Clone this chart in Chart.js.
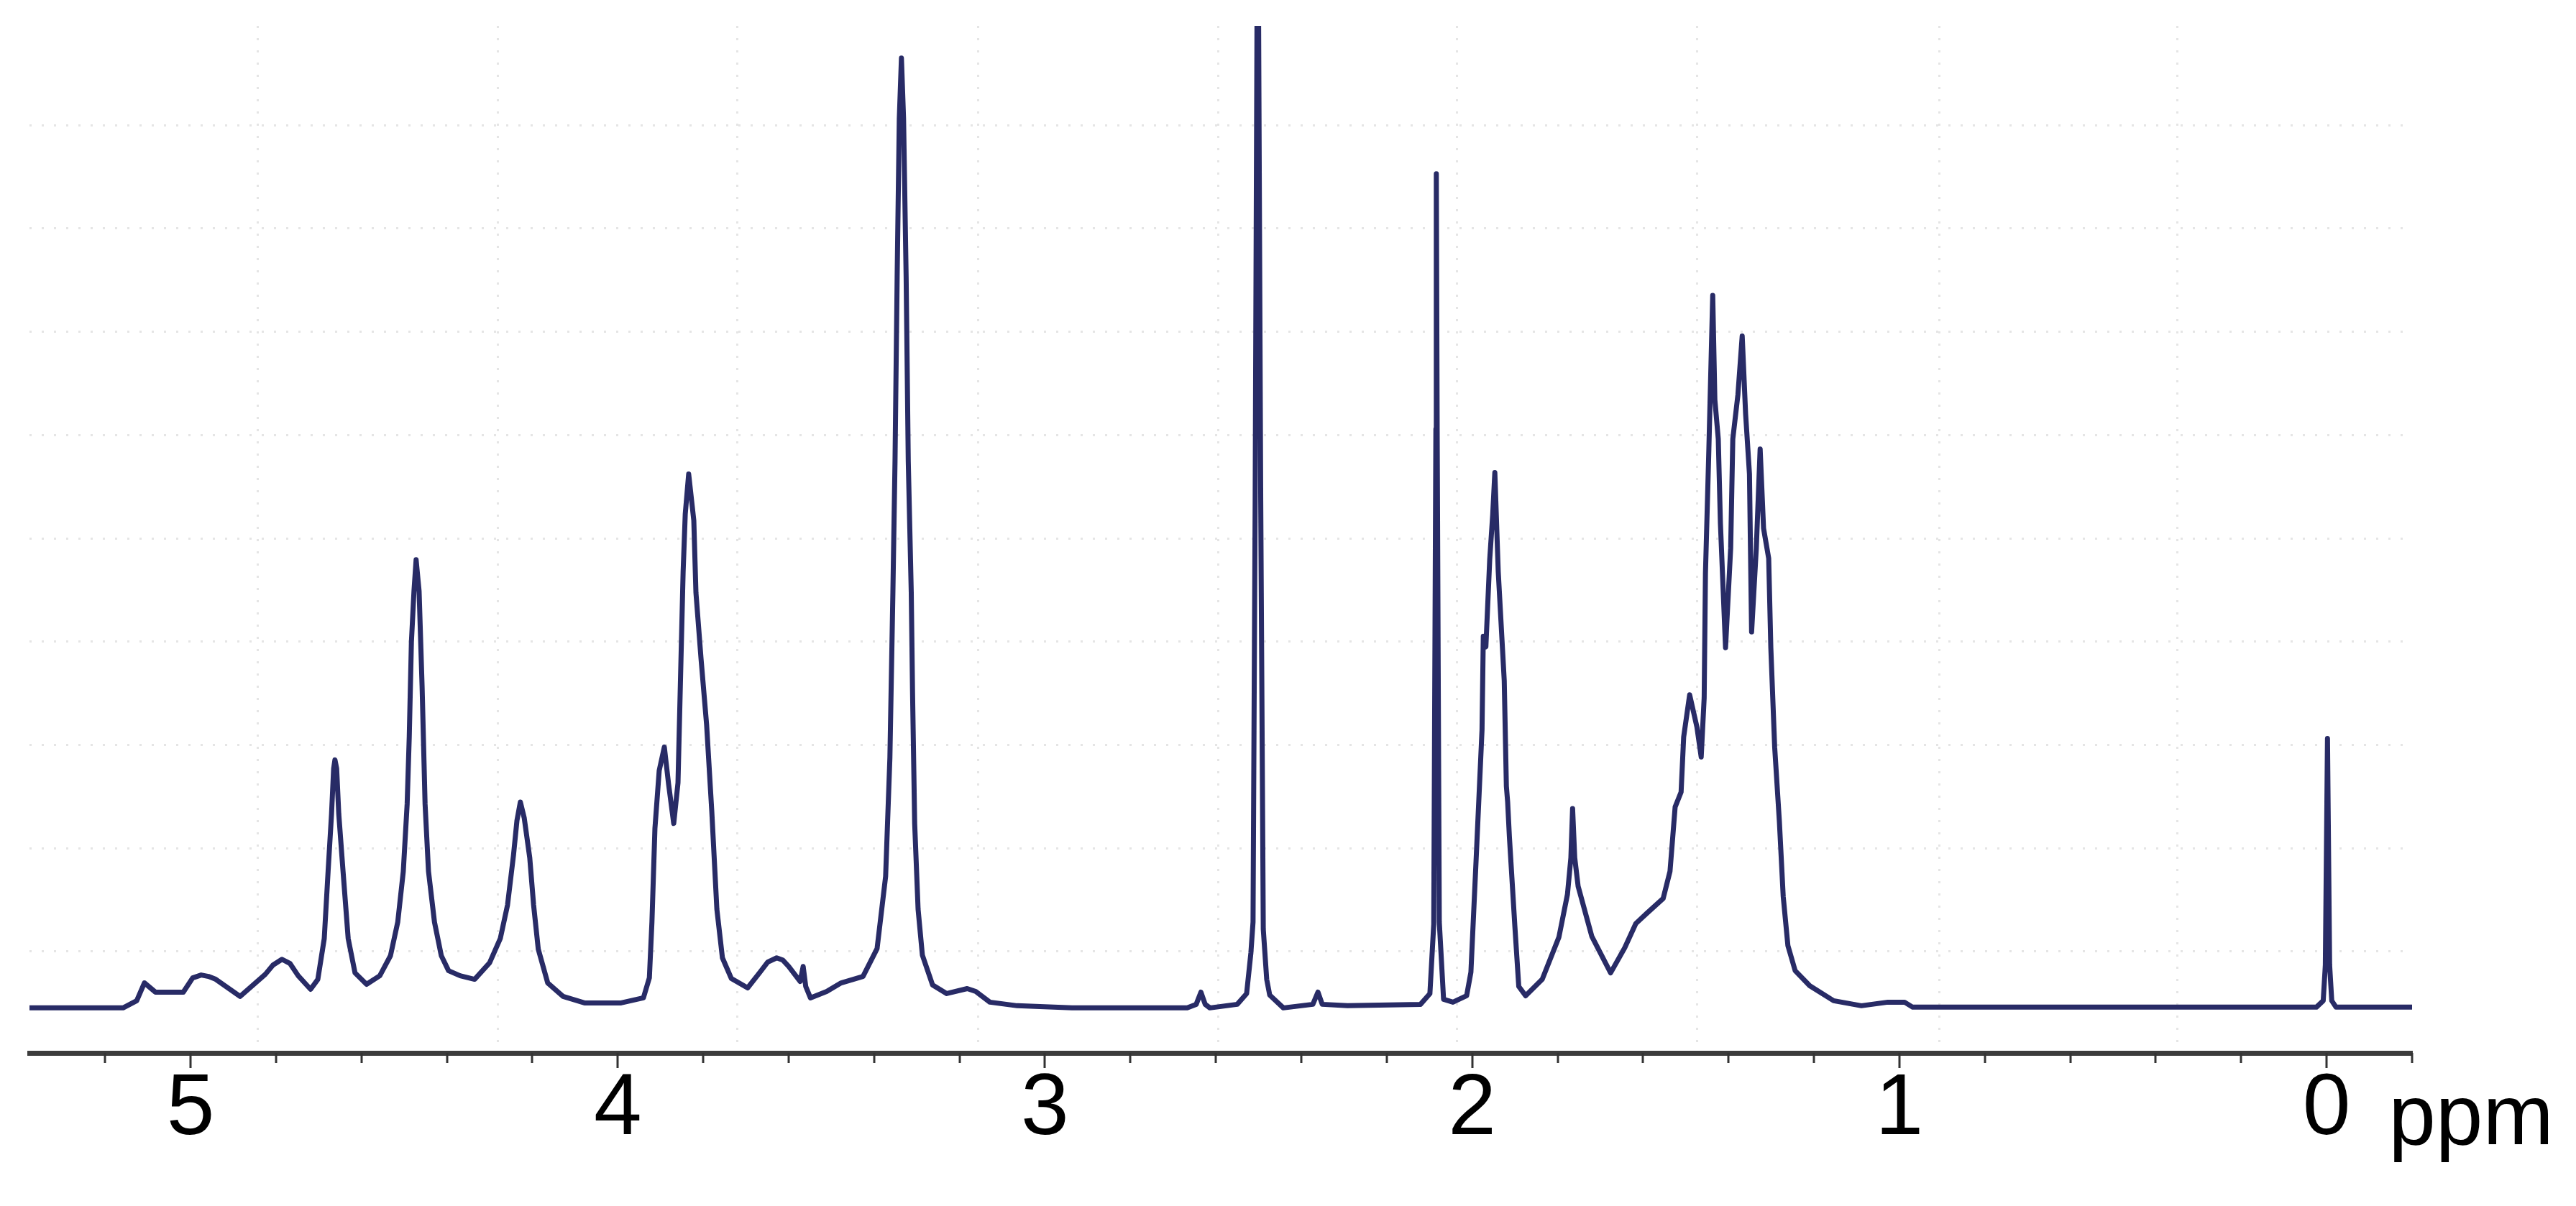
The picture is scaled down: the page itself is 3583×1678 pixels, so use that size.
<!DOCTYPE html>
<html>
<head>
<meta charset="utf-8">
<style>
  html, body { margin: 0; padding: 0; background: #ffffff; }
  #wrap { width: 3583px; height: 1678px; }
  canvas { display: block; }
</style>
<script src="https://cdn.jsdelivr.net/npm/chart.js@4.4.1/dist/chart.umd.min.js"></script>
</head>
<body>
<div id="wrap"><canvas id="c" width="3583" height="1678"></canvas></div>
<script>
// Chemical shift (ppm) of each traced point, left to right
const ppm = [
  5.377, 5.158, 5.126, 5.108, 5.082, 5.017, 4.995, 4.975, 4.958, 4.941,
  4.884, 4.825, 4.807, 4.786, 4.767, 4.748,
  4.719, 4.702, 4.687, 4.678, 4.670, 4.665, 4.662, 4.658,
  4.653, 4.643, 4.631, 4.615, 4.588, 4.557, 4.532, 4.515, 4.502, 4.493,
  4.488, 4.483, 4.477, 4.472, 4.465, 4.458, 4.451, 4.443, 4.429, 4.413,
  4.396, 4.369, 4.335, 4.300, 4.275, 4.258, 4.244, 4.236, 4.228, 4.219,
  4.206, 4.197, 4.186, 4.164, 4.128, 4.078, 3.992, 3.940, 3.926, 3.920,
  3.913, 3.903, 3.891, 3.881, 3.869, 3.859, 3.852, 3.847, 3.842, 3.834,
  3.822, 3.817, 3.805, 3.792, 3.780, 3.768, 3.755, 3.734, 3.696, 3.667,
  3.649, 3.628, 3.614, 3.600, 3.573, 3.566, 3.560, 3.549, 3.511, 3.477, 3.426, 3.393,
  3.373, 3.363, 3.356, 3.351, 3.346, 3.341, 3.336, 3.331, 3.325, 3.320,
  3.313, 3.310, 3.305, 3.297, 3.287, 3.263, 3.230, 3.182, 3.162, 3.129,
  3.065, 2.937, 2.667, 2.646, 2.635, 2.625, 2.614, 2.550, 2.528, 2.518,
  2.513, 2.508, 2.502, 2.495, 2.489, 2.481, 2.474, 2.442, 2.373, 2.361,
  2.351, 2.292, 2.121, 2.099, 2.090, 2.085, 2.084, 2.082, 2.077, 2.067,
  2.045, 2.013, 2.003, 1.991, 1.977, 1.974, 1.968, 1.959, 1.952, 1.947,
  1.939, 1.925, 1.920, 1.917, 1.913, 1.900, 1.891, 1.875, 1.836, 1.797,
  1.777, 1.769, 1.765, 1.760, 1.752, 1.720, 1.676, 1.643, 1.617, 1.592,
  1.553, 1.537, 1.525, 1.511, 1.505, 1.491, 1.474, 1.464, 1.457, 1.454,
  1.446, 1.437, 1.432, 1.424, 1.419, 1.407, 1.395, 1.390, 1.378, 1.368,
  1.360, 1.351, 1.346, 1.335, 1.326, 1.318, 1.306, 1.301, 1.292, 1.281,
  1.272, 1.261, 1.244, 1.210, 1.154, 1.089, 1.027, 0.988, 0.969, 0.024,
  0.008, 0.003, -0.002, -0.007, -0.012, -0.022, -0.200
];
// Signal intensity (arbitrary units) at each point
const intensity = [
  0.0, 0.0, 1.0, 3.5, 2.2, 2.2, 4.2, 4.6, 4.4, 4.0,
  1.6, 4.7, 6.0, 6.8, 6.2, 4.5,
  2.6, 4.0, 9.7, 19.1, 27.1, 33.5, 34.7, 33.5,
  27.1, 19.1, 9.7, 4.9, 3.3, 4.5, 7.3, 12.0, 19.1, 28.5,
  38.0, 51.2, 58.3, 62.7, 58.3, 45.0, 28.5, 19.1, 12.0, 7.3,
  5.2, 4.5, 4.0, 6.3, 9.7, 14.4, 21.4, 26.2, 28.8, 26.6,
  21.0, 14.4, 8.2, 3.5, 1.6, 0.7, 0.7, 1.4, 4.2, 12.0,
  25.1, 33.2, 36.5, 31.3, 25.8, 31.5, 48.8, 61.0, 69.1, 74.7,
  68.2, 58.1, 48.8, 39.6, 27.6, 13.8, 7.0, 4.1, 2.8, 5.0,
  6.4, 7.0, 6.7, 5.8, 3.7, 5.8, 3.0, 1.4, 2.3, 3.5, 4.4, 8.3,
  18.4, 35.0, 58.1, 76.5, 102.3, 124.4, 132.9, 124.4, 102.3, 76.5,
  58.1, 44.2, 25.8, 13.8, 7.4, 3.2, 2.0, 2.7, 2.3, 0.8,
  0.3, 0.0, 0.0, 0.5, 2.2, 0.5, 0.0, 0.5, 2.0, 7.7,
  12.0, 71.0, 165.0, 71.0, 11.0, 4.0, 1.8, 0.0, 0.5, 2.2,
  0.5, 0.3, 0.5, 2.0, 11.7, 81.0, 116.7, 81.0, 12.0, 1.2,
  0.8, 1.7, 5.0, 20.5, 38.9, 52.0, 50.5, 62.7, 69.0, 74.9,
  61.0, 45.8, 31.0, 28.8, 24.0, 11.3, 3.0, 1.7, 4.0, 9.9,
  15.9, 21.0, 27.9, 21.0, 17.0, 10.0, 4.9, 8.4, 11.8, 13.2,
  15.3, 19.1, 28.1, 30.2, 37.9, 43.8, 39.3, 35.1, 43.4, 60.8,
  78.2, 99.7, 85.1, 79.6, 67.8, 50.4, 64.3, 79.6, 85.8, 94.0,
  83.1, 74.7, 52.6, 64.3, 78.2, 67.1, 62.9, 50.4, 36.5, 26.1,
  15.6, 8.7, 5.2, 3.1, 1.0, 0.3, 0.8, 0.8, 0.1, 0.1,
  1.0, 6.0, 37.7, 6.0, 1.0, 0.1, 0.1
];
// Axis tick values and labels
const majorTicks = [5, 4, 3, 2, 1, 0];
const tickLabels = ['5', '4', '3', '2', '1', '0'];
const minorStep = 0.2;
const axisUnit = 'ppm';
// Faint background grid positions (ppm / intensity)
const gridPpm = [4.842, 4.281, 3.721, 3.157, 2.595, 2.036, 1.474, 0.907, 0.350];
const gridIntensity = [7.9, 22.35, 36.8, 51.25, 65.7, 80.15, 94.6, 109.05, 123.5];

const X_MIN = -0.2, X_MAX = 5.377;
const points = ppm.map((p, i) => ({ x: p, y: intensity[i] }));

const tickMarks = {
  id: 'tickMarks',
  afterDraw(chart) {
    const xs = chart.scales.x;
    const ctx = chart.ctx;
    const y0 = chart.chartArea.bottom;
    ctx.save();
    ctx.strokeStyle = '#333333';
    ctx.lineWidth = 3;
    xs.ticks.forEach(t => {
      const px = Math.round(xs.getPixelForValue(t.value));
      const isMajor = majorTicks.some(m => Math.abs(m - t.value) < 1e-6);
      ctx.beginPath();
      ctx.moveTo(px, y0);
      ctx.lineTo(px, y0 + (isMajor ? 21 : 14));
      ctx.stroke();
    });
    ctx.fillStyle = '#000000';
    ctx.font = '118px "Liberation Sans", Arial, sans-serif';
    ctx.textBaseline = 'alphabetic';
    ctx.textAlign = 'left';
    ctx.fillText(axisUnit, xs.getPixelForValue(0) + 86, 1592);
    ctx.restore();
  }
};

const faintGrid = { color: 'rgba(0,0,0,0.10)', lineWidth: 3, drawTicks: false };
const faintBorder = { display: false, dash: [3, 14] };

new Chart(document.getElementById('c'), {
  type: 'line',
  data: {
    datasets: [
      {
        data: points,
        borderColor: '#282b66',
        borderWidth: 7,
        pointRadius: 0,
        tension: 0,
        borderJoinStyle: 'round',
        borderCapStyle: 'round',
        fill: false
      },
      {
        data: points,
        borderColor: '#9c9ecd',
        borderWidth: 2,
        pointRadius: 0,
        tension: 0,
        borderJoinStyle: 'round',
        fill: false
      }
    ]
  },
  options: {
    responsive: false,
    devicePixelRatio: 1,
    animation: false,
    events: [],
    layout: { padding: { left: 41, right: 228, top: 36, bottom: 53 } },
    plugins: { legend: { display: false }, tooltip: { enabled: false }, title: { display: false } },
    scales: {
      x: {
        type: 'linear',
        reverse: true,
        min: X_MIN,
        max: X_MAX,
        afterBuildTicks(scale) {
          const t = [];
          for (let k = 0; ; k++) {
            const v = Math.round((5.2 - k * minorStep) * 1000) / 1000;
            if (v < X_MIN - 1e-9) break;
            t.push({ value: v });
          }
          scale.ticks = t;
        },
        ticks: {
          autoSkip: false,
          maxRotation: 0,
          padding: 8,
          color: '#000000',
          font: { family: '"Liberation Sans", Arial, sans-serif', size: 120 },
          callback(v) {
            const i = majorTicks.findIndex(m => Math.abs(m - v) < 1e-6);
            return i >= 0 ? tickLabels[i] : '';
          }
        },
        grid: { display: false, drawTicks: false, drawOnChartArea: false },
        border: { display: true, color: '#3c3c3c', width: 7 }
      },
      xg: {
        type: 'linear',
        position: 'top',
        reverse: true,
        min: X_MIN,
        max: X_MAX,
        afterBuildTicks(scale) { scale.ticks = gridPpm.map(v => ({ value: v })); },
        ticks: { display: false },
        grid: faintGrid,
        border: faintBorder
      },
      y: {
        type: 'linear',
        min: -6.3,
        max: 137.4,
        afterBuildTicks(scale) { scale.ticks = gridIntensity.map(v => ({ value: v })); },
        ticks: { display: false },
        grid: faintGrid,
        border: faintBorder
      }
    }
  },
  plugins: [tickMarks]
});
</script>
</body>
</html>
